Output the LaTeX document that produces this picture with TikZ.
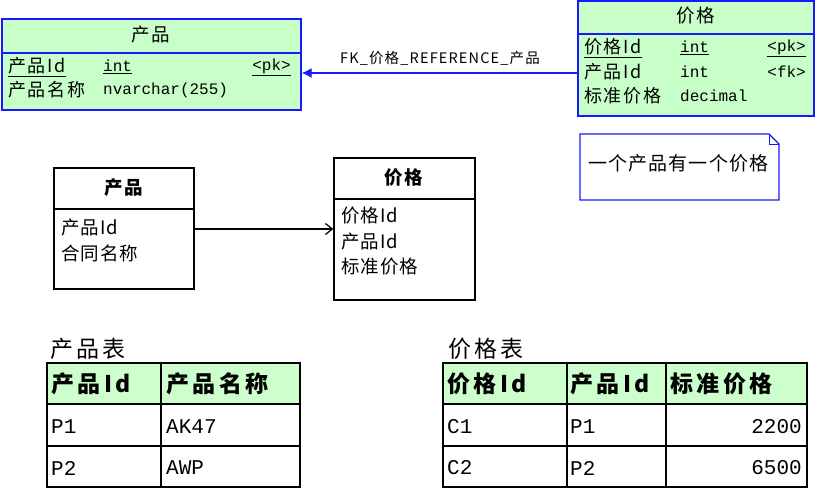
\documentclass[tikz,border=0pt]{standalone}
\usepackage{fontspec}
\setmainfont{Noto Sans CJK SC}
\newfontfamily\monofont{Liberation Mono}
\usepackage{tikz}
\usetikzlibrary{arrows.meta}
\definecolor{entgreen}{RGB}{200,255,200}
\definecolor{headgreen}{RGB}{204,255,204}
\definecolor{entblue}{RGB}{25,25,255}
\tikzset{
  pdm/.style={draw=entblue,fill=entgreen,line width=1.3pt,inner sep=0pt},
  cdm/.style={draw=black,line width=1.3pt,inner sep=0pt},
  txt/.style={anchor=west,inner sep=0pt,font=\fontsize{18}{20}\selectfont\addfontfeature{LetterSpace=10}},
  mid/.style={anchor=west,inner sep=0pt,font=\fontsize{18.5}{20}\selectfont\addfontfeature{LetterSpace=5}},
  typ/.style={anchor=west,inner sep=0pt,font=\monofont\fontsize{16}{18}\selectfont},
  ttl/.style={inner sep=0pt,font=\fontsize{18.5}{20}\selectfont\addfontfeature{LetterSpace=8}},
  hdr/.style={anchor=west,inner sep=0pt,font=\bfseries\fontsize{23}{25}\selectfont\addfontfeature{LetterSpace=15}},
  lbl/.style={anchor=west,inner sep=0pt,font=\fontsize{23}{25}\selectfont\addfontfeature{LetterSpace=13}},
  dat/.style={anchor=west,inner sep=0pt,font=\monofont\fontsize{21}{23}\selectfont},
  grid/.style={draw=black,line width=1.3pt}
}
\begin{document}
\begin{tikzpicture}[x=1pt,y=-1pt]
\useasboundingbox (0,0) rectangle (820,491);
% physical model
\node[pdm,minimum width=299pt,minimum height=91pt] (e1) at (151.5,64.5) {};
\draw[entblue,line width=1.3pt] (e1.west |- 0,53) -- (e1.east |- 0,53);
\node[ttl] (t1) at (151,35) {产品};
\node[txt] (r11) at (8,67) {\underline{产品Id}};
\node[typ] (y11) at (103,67) {\underline{int}};
\node[typ,anchor=east] (k11) at (291,67) {\underline{<pk>}};
\node[txt] (r12) at (8,90) {产品名称};
\node[typ] (y12) at (103,90) {nvarchar(255)};

\node[pdm,minimum width=236pt,minimum height=115pt] (e2) at (696,58.5) {};
\draw[entblue,line width=1.3pt] (e2.west |- 0,34) -- (e2.east |- 0,34);
\node[ttl] (t2) at (696,16) {价格};
\node[txt] (r21) at (584,48) {\underline{价格Id}};
\node[typ] (y21) at (680,48) {\underline{int}};
\node[typ,anchor=east] (k21) at (806,48) {\underline{<pk>}};
\node[txt] (r22) at (584,72) {产品Id};
\node[typ] (y22) at (680,72) {int};
\node[typ,anchor=east] (k22) at (806,72) {<fk>};
\node[txt] (r23) at (584,96) {标准价格};
\node[typ] (y23) at (680,96) {decimal};

\draw[entblue,line width=1.3pt,-{Latex[length=10pt,width=10pt]}] (e2.west |- 0,73) -- (e1.east |- 0,73);
\node[inner sep=0pt,font=\fontsize{14.5}{16}\selectfont\addfontfeature{LetterSpace=8}] (fk) at (440,58) {FK\_价格\_REFERENCE\_产品};

% note
\draw[entblue,line width=1.3pt,fill=white] (580,134) -- (769,134) -- (779,144) -- (779,200) -- (580,200) -- cycle;
\draw[entblue,line width=1pt] (769,134) -- (769,144) -- (779,144);
\node[txt,font=\fontsize{19}{21}\selectfont\addfontfeature{LetterSpace=6}] (n1) at (588,163) {一个产品有一个价格};

% conceptual model
\node[cdm,minimum width=140pt,minimum height=121pt] (e3) at (124,228.5) {};
\draw[black,line width=1.3pt] (e3.west |- 0,209) -- (e3.east |- 0,209);
\node[ttl,font=\bfseries\fontsize{18.5}{20}\selectfont\addfontfeature{LetterSpace=8}] (t3) at (124,188) {产品};
\node[mid] (r31) at (61,228) {产品Id};
\node[mid] (r32) at (61,253) {合同名称};

\node[cdm,minimum width=141pt,minimum height=142pt] (e4) at (404.5,229) {};
\draw[black,line width=1.3pt] (e4.west |- 0,199) -- (e4.east |- 0,199);
\node[ttl,font=\bfseries\fontsize{18.5}{20}\selectfont\addfontfeature{LetterSpace=8}] (t4) at (404,178) {价格};
\node[mid] (r41) at (341,216) {价格Id};
\node[mid] (r42) at (341,242) {产品Id};
\node[mid] (r43) at (341,267) {标准价格};

\draw[black,line width=1.2pt,-{Straight Barb[length=7pt,width=11pt]}] (e3.east |- 0,229) -- (e4.west |- 0,229);

% tables
\node[lbl] (l1) at (50,349) {产品表};
\fill[headgreen] (47,363) rectangle (300,404);
\draw[grid] (47,363) rectangle (300,487);
\draw[grid] (161,363) -- (161,487);
\draw[grid] (47,404) -- (300,404);
\draw[grid] (47,446) -- (300,446);
\node[hdr] (h11) at (51,384) {产品Id};
\node[hdr] (h12) at (166,384) {产品名称};
\node[dat] (d11) at (51,427) {P1};
\node[dat] (d12) at (166,427) {AK47};
\node[dat] (d21) at (51,468) {P2};
\node[dat] (d22) at (166,468) {AWP};

\node[lbl] (l2) at (448,349) {价格表};
\fill[headgreen] (443,363) rectangle (807,404);
\draw[grid] (443,363) rectangle (807,487);
\draw[grid] (567,363) -- (567,487);
\draw[grid] (666,363) -- (666,487);
\draw[grid] (443,404) -- (807,404);
\draw[grid] (443,446) -- (807,446);
\node[hdr] (h21) at (447,384) {价格Id};
\node[hdr] (h22) at (570,384) {产品Id};
\node[hdr] (h23) at (670,384) {标准价格};
\node[dat] (c11) at (447,427) {C1};
\node[dat] (c12) at (570,427) {P1};
\node[dat,anchor=east] (c13) at (802,427) {2200};
\node[dat] (c21) at (447,468) {C2};
\node[dat] (c22) at (570,468) {P2};
\node[dat,anchor=east] (c23) at (802,468) {6500};
\end{tikzpicture}
\end{document}
